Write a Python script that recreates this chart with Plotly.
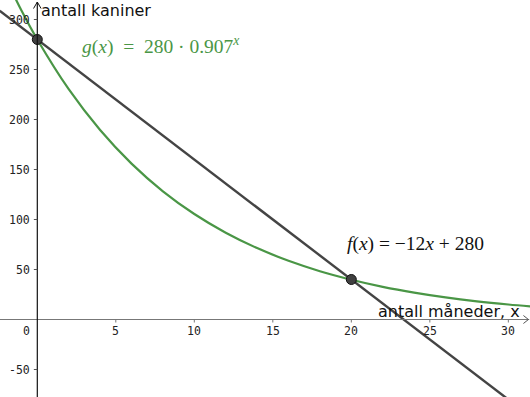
import plotly.graph_objects as go

# ---- data ----
g_x = [-2.4, -1, 0, 2, 4, 6, 8, 10, 12, 14, 16, 18, 20, 22, 24, 26, 28, 30, 31.4]
g_y = [354, 308.7, 280, 230.3, 189.5, 155.9, 128.2, 105.5, 86.8, 71.4, 58.7, 48.3, 39.8, 32.7, 26.9, 22.1, 18.2, 15.0, 13.1]
f_x = [-2.4, 31.4]
f_y = [308.8, -96.8]
pts_x = [0, 20]
pts_y = [280, 40]
x_ticks = [5, 10, 15, 20, 25, 30]
y_ticks = [-50, 50, 100, 150, 200, 250, 300]

X0, X1 = -2.376, 31.38
Y0, Y1 = -77.5, 319.5
GREEN = "#4a9646"
DARK = "#444444"

fig = go.Figure()
fig.add_trace(go.Scatter(x=g_x, y=g_y, mode="lines", line=dict(color=GREEN, width=2.2, shape="spline"),
                         hoverinfo="skip", showlegend=False))
fig.add_trace(go.Scatter(x=f_x, y=f_y, mode="lines", line=dict(color=DARK, width=2.4),
                         hoverinfo="skip", showlegend=False))
fig.add_trace(go.Scatter(x=pts_x, y=pts_y, mode="markers",
                         marker=dict(size=10, color="#404040", line=dict(color="#111111", width=1)),
                         hoverinfo="skip", showlegend=False))

shapes = []
# x axis
shapes.append(dict(type="line", x0=X0, x1=X1 - 0.05, y0=0, y1=0, line=dict(color="#777777", width=1.2)))
shapes.append(dict(type="line", x0=X1 - 0.42, x1=X1 - 0.1, y0=4, y1=0, line=dict(color="#555555", width=1)))
shapes.append(dict(type="line", x0=X1 - 0.42, x1=X1 - 0.1, y0=-4, y1=0, line=dict(color="#555555", width=1)))
# y axis
shapes.append(dict(type="line", x0=0, x1=0, y0=Y0, y1=Y1 - 2, line=dict(color="#111111", width=1.2)))
shapes.append(dict(type="line", x0=-0.24, x1=0, y0=Y1 - 8.5, y1=Y1 - 2, line=dict(color="#111111", width=1)))
shapes.append(dict(type="line", x0=0.24, x1=0, y0=Y1 - 8.5, y1=Y1 - 2, line=dict(color="#111111", width=1)))
for t in x_ticks:
    shapes.append(dict(type="line", x0=t, x1=t, y0=0, y1=-3, line=dict(color="#777777", width=1)))
for t in y_ticks:
    shapes.append(dict(type="line", x0=-0.22, x1=0, y0=t, y1=t, line=dict(color="#555555", width=1)))

ann = []
tickfont = dict(family="DejaVu Sans Mono", size=11.5, color="#222222")
for t in x_ticks:
    ann.append(dict(x=t, y=-11, text=str(t), showarrow=False, font=tickfont, xanchor="center", yanchor="middle"))
ann.append(dict(x=-0.66, y=-11, text="0", showarrow=False, font=tickfont, xanchor="center", yanchor="middle"))
for t in y_ticks:
    ann.append(dict(x=-0.36, y=t, text=str(t), showarrow=False, font=tickfont, xanchor="right", yanchor="middle"))

labfont = dict(family="DejaVu Sans", size=16, color="#111111")
ann.append(dict(x=0.1, y=309.5, text="antall kaniner", showarrow=False, font=labfont, xanchor="left", yanchor="middle"))
ann.append(dict(x=30.9, y=8.5, text="antall måneder, x", showarrow=False, font=labfont, xanchor="right", yanchor="middle"))

ann.append(dict(x=2.7, y=274, text="<i>g</i>(<i>x</i>)  =  280 · 0.907<sup><i>x</i></sup>", showarrow=False,
                font=dict(family="Liberation Serif", size=19.5, color=GREEN), xanchor="left", yanchor="middle"))
ann.append(dict(x=19.6, y=76, text="<i>f</i>(<i>x</i>) = −12<i>x</i> + 280", showarrow=False,
                font=dict(family="Liberation Serif", size=19.5, color="#111111"), xanchor="left", yanchor="middle"))

fig.update_layout(
    width=530, height=397, margin=dict(l=0, r=0, t=0, b=0),
    paper_bgcolor="white", plot_bgcolor="white",
    xaxis=dict(range=[X0, X1], visible=False, fixedrange=True),
    yaxis=dict(range=[Y0, Y1], visible=False, fixedrange=True),
    shapes=shapes, annotations=ann, showlegend=False,
)
fig.write_html("out.html", config={"displayModeBar": False},
               post_script="document.body.style.margin='0px';document.body.style.padding='0px';")
